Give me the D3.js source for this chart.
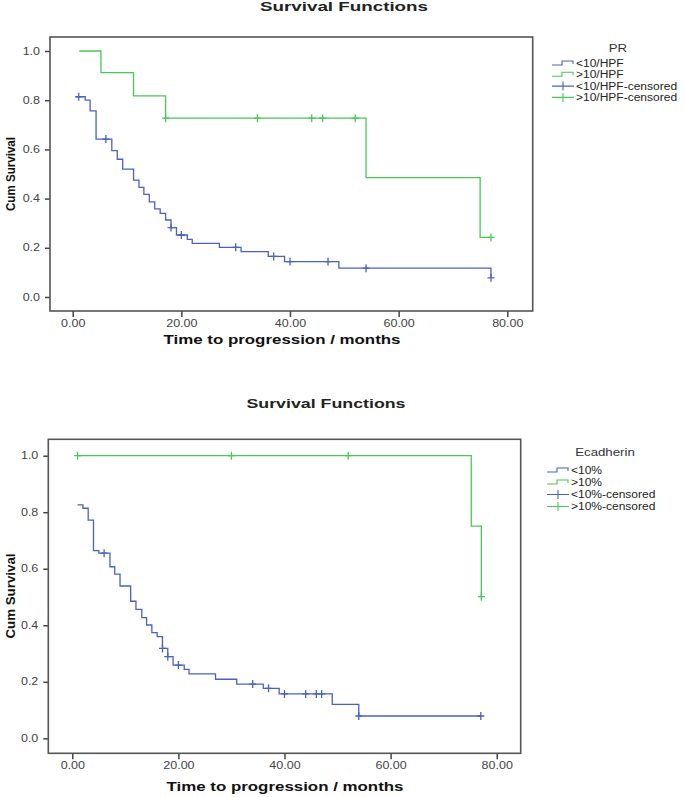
<!DOCTYPE html>
<html lang="en">
<head>
  <meta charset="UTF-8">
  <title>Survival Functions</title>
  <script src="https://d3js.org/d3.v7.min.js"></script>
  <style>
    body { margin: 0; background: #fff; font-family: "Liberation Sans", Arial, sans-serif; }
    .tick text { fill: #444; }
  </style>
</head>
<body>
  <div id="chart"></div>
  <script>
    // ---- data: [time, cum survival] ----
    // PR panel
    const prLowSteps = [[0.6, 0.814], [2.3, 0.80], [3.2, 0.757], [4.3, 0.642], [7.2, 0.595], [8.2, 0.56],
      [9.2, 0.52], [11.2, 0.475], [12.2, 0.446], [13.1, 0.417], [14.1, 0.387], [15.1, 0.358],
      [16.1, 0.34], [17.1, 0.313], [18.1, 0.282], [19.1, 0.252], [21.1, 0.234], [22, 0.218],
      [27, 0.202], [31, 0.184], [36, 0.165], [39, 0.144], [49, 0.117], [77, 0.078]];
    const prLowCensored = [[1.1, 0.814], [6.1, 0.642], [18.1, 0.282], [20, 0.252], [30, 0.202],
      [37, 0.165], [40, 0.144], [47, 0.144], [54, 0.117], [77, 0.078]];
    const prHighSteps = [[1.2, 1.0], [5.2, 0.912], [11.2, 0.818], [17.1, 0.727], [54, 0.485], [75, 0.242]];
    const prHighCensored = [[17.1, 0.727], [34, 0.727], [44, 0.727], [46, 0.727], [52, 0.727], [77, 0.242]];

    // Ecadherin panel
    const ecLowSteps = [[1, 0.826], [2, 0.814], [3, 0.772], [4, 0.664], [5, 0.655], [7.1, 0.607],
      [8, 0.581], [9, 0.539], [11, 0.485], [12, 0.456], [13.1, 0.427], [14, 0.401], [15, 0.374],
      [16, 0.36], [17, 0.318], [18, 0.289], [19, 0.259], [21.1, 0.244], [22, 0.228], [27, 0.209],
      [31, 0.192], [36, 0.177], [39, 0.157], [49, 0.12], [54, 0.079]];
    const ecLowCensored = [[6, 0.655], [17, 0.318], [18, 0.289], [20, 0.259], [34, 0.192], [37, 0.177],
      [40, 0.157], [44, 0.157], [46, 0.157], [47, 0.157], [54, 0.079], [77, 0.079]];
    const ecHighSteps = [[1, 1.0], [75.2, 0.751], [77.1, 0.501]];
    const ecHighCensored = [[1, 1.0], [30, 1.0], [52, 1.0], [77.1, 0.501]];

    const xTicks = [0, 20, 40, 60, 80];
    const yTicks = [0, 0.2, 0.4, 0.6, 0.8, 1.0];
    const prLegend = ["<10/HPF", ">10/HPF", "<10/HPF-censored", ">10/HPF-censored"];
    const ecLegend = ["<10%", ">10%", "<10%-censored", ">10%-censored"];

    const BLUE = "#4862c4", GREEN = "#48c857";

    const svg = d3.select("#chart").append("svg")
      .attr("width", 685).attr("height", 797);

    // stretch text horizontally (the source image is widened)
    function stretch(sel, k) {
      sel.each(function () {
        const w = this.getComputedTextLength();
        d3.select(this).attr("textLength", w * k).attr("lengthAdjust", "spacingAndGlyphs");
      });
    }
    function fit(sel, w) {
      sel.attr("textLength", w).attr("lengthAdjust", "spacingAndGlyphs");
    }

    function drawPanel(c) {
      const g = svg.append("g");
      const x = d3.scaleLinear().domain(c.xDom).range([c.L, c.R]);
      const y = d3.scaleLinear().domain(c.yDom).range([c.B, c.T]);

      g.append("text").attr("x", c.titleX).attr("y", c.titleY)
        .attr("text-anchor", "middle").attr("font-size", 13).attr("font-weight", "bold")
        .attr("fill", "#222").text("Survival Functions").call(fit, c.titleW);

      // axes
      const xa = g.append("g").attr("transform", `translate(0,${c.B})`)
        .call(d3.axisBottom(x).tickValues(xTicks).tickSize(6).tickSizeOuter(0).tickPadding(3)
          .tickFormat(d3.format(".2f")));
      xa.select(".domain").remove();
      xa.selectAll("line").attr("stroke", "#444").attr("stroke-width", 1.5);
      xa.selectAll("text").attr("font-size", 10).attr("font-family", "Liberation Sans").call(stretch, 1.25);

      const ya = g.append("g").attr("transform", `translate(${c.L},0)`)
        .call(d3.axisLeft(y).tickValues(yTicks).tickSize(5).tickSizeOuter(0).tickPadding(5)
          .tickFormat(d3.format(".1f")));
      ya.select(".domain").remove();
      ya.selectAll("line").attr("stroke", "#444").attr("stroke-width", 1.5);
      ya.selectAll("text").attr("font-size", 10).attr("font-family", "Liberation Sans").call(stretch, 1.25);

      g.append("rect").attr("x", c.L).attr("y", c.T)
        .attr("width", c.R - c.L).attr("height", c.B - c.T)
        .attr("fill", "none").attr("stroke", "#555").attr("stroke-width", 1.6);

      g.append("text").attr("x", c.xLabX).attr("y", c.xLabY)
        .attr("text-anchor", "middle").attr("font-size", 12.5).attr("font-weight", "bold")
        .attr("fill", "#111").text("Time to progression / months").call(fit, 237);

      g.append("text")
        .attr("transform", `translate(${c.yLabX},${c.yLabY}) rotate(-90)`)
        .attr("text-anchor", "middle").attr("font-size", 13).attr("font-weight", "bold")
        .attr("fill", "#111").text("Cum Survival").call(fit, c.yLabW);

      // curves
      const line = d3.line().x(d => x(d[0])).y(d => y(d[1])).curve(d3.curveStepAfter);
      c.series.forEach(s => {
        const end = d3.max(s.censored, d => d[0]) || 0;
        const last = s.steps[s.steps.length - 1];
        const pts = s.steps.slice();
        if (end > last[0]) pts.push([end, last[1]]);
        g.append("path").datum(pts).attr("d", line)
          .attr("fill", "none").attr("stroke", s.color).attr("stroke-width", 1.3);
        // censored: small "+"
        g.selectAll(null).data(s.censored).enter().append("path")
          .attr("d", d => {
            const px = x(d[0]), py = y(d[1]);
            return `M${px},${py - 4}V${py + 4}M${px - 3.5},${py}H${px + 3.5}`;
          })
          .attr("fill", "none").attr("stroke", s.color).attr("stroke-width", 1.3);
      });

      // legend
      const lg = g.append("g");
      lg.append("text").attr("x", c.legTitleX).attr("y", c.legTitleY)
        .attr("text-anchor", "middle").attr("font-size", 11.5).attr("fill", "#333")
        .text(c.legTitle).call(stretch, 1.15);
      const colors = [BLUE, GREEN, BLUE, GREEN];
      c.legItems.forEach((t, i) => {
        const yy = c.legY + i * c.legDy;
        const x0 = c.legX;
        if (i < 2) {
          lg.append("path")
            .attr("d", `M${x0},${yy - 2} H${x0 + 10} V${yy - 6} H${x0 + 21} V${yy - 3}`)
            .attr("fill", "none").attr("stroke", colors[i]).attr("stroke-width", 1.1);
        } else {
          lg.append("path")
            .attr("d", `M${x0},${yy - 3.5} H${x0 + 22} M${x0 + 11},${yy - 8} V${yy + 1}`)
            .attr("fill", "none").attr("stroke", colors[i]).attr("stroke-width", 1.1);
        }
        lg.append("text").attr("x", x0 + 24).attr("y", yy)
          .attr("font-size", 10).attr("fill", "#222").text(t).call(stretch, 1.2);
      });
    }

    drawPanel({
      L: 50, R: 532.7, T: 37, B: 311, xDom: [-4.18, 84.68], yDom: [-0.057, 1.057],
      titleX: 344, titleY: 11, titleW: 168,
      xLabX: 282, xLabY: 344, yLabX: 15, yLabY: 174, yLabW: 74,
      series: [
        { steps: prLowSteps, censored: prLowCensored, color: BLUE },
        { steps: prHighSteps, censored: prHighCensored, color: GREEN }
      ],
      legTitle: "PR", legTitleX: 618, legTitleY: 52,
      legItems: prLegend, legX: 552, legY: 67, legDy: 11.3
    });

    drawPanel({
      L: 48.3, R: 520.7, T: 439.3, B: 753.3, xDom: [-4.52, 84.52], yDom: [-0.053, 1.058],
      titleX: 326, titleY: 408, titleW: 159,
      xLabX: 285, xLabY: 791, yLabX: 15, yLabY: 596, yLabW: 85,
      series: [
        { steps: ecLowSteps, censored: ecLowCensored, color: BLUE },
        { steps: ecHighSteps, censored: ecHighCensored, color: GREEN }
      ],
      legTitle: "Ecadherin", legTitleX: 605, legTitleY: 456,
      legItems: ecLegend, legX: 547, legY: 474, legDy: 12
    });
  </script>
</body>
</html>
